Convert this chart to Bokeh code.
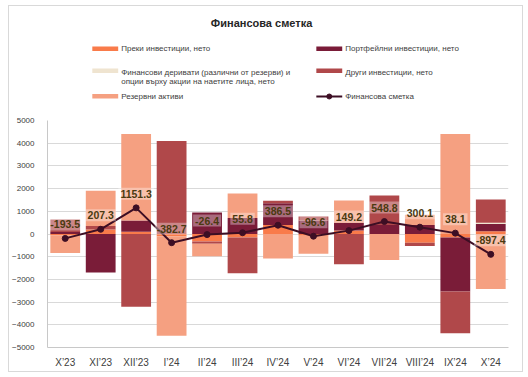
import numpy as np
from bokeh.plotting import figure
from bokeh.models import ColumnDataSource, FactorRange, Range1d, FixedTicker, Label
from bokeh.layouts import column
from bokeh.core.properties import value
from bokeh.embed import file_html
from bokeh.resources import INLINE

# ---------------- data (млн. евро) ----------------
categories = ["X’23", "XI’23", "XII’23", "I’24", "II’24", "III’24", "IV’24",
              "V’24", "VI’24", "VII’24", "VIII’24", "IX’24", "X’24"]
direct = [-60, 200, 100, -100, -330, -150, 400, -80, 150, 0, -380, -150, 120]
portfolio = [90, -1700, 500, 0, 950, 700, 950, 600, 350, 400, 400, -2380, 320]
derivatives = [0, 0, 0, 0, 0, 0, 0, 0, 0, 0, 0, 0, 60]
other = [550, 150, -3200, 4100, -100, -1580, 120, 170, -1330, 1300, -150, -1840, 1020]
reserve = [-775, 1550, 3800, -4380, -550, 1085, -1080, -790, 980, -1150, 450, 4410, -2420]
financial_account = [-193.5, 207.3, 1151.3, -382.7, -26.4, 55.8, 386.5, -96.6,
                     149.2, 548.8, 300.1, 38.1, -897.4]
y_ticks = [-5000, -4000, -3000, -2000, -1000, 0, 1000, 2000, 3000, 4000, 5000]

series_names = ["Преки инвестиции, нето",
                "Портфейлни инвестиции, нето",
                "Финансови деривати (различни от резерви) и опции върху акции на наетите лица, нето",
                "Други инвестиции, нето",
                "Резервни активи"]
line_name = "Финансова сметка"

colors = ["#F97B4A", "#7A1C38", "#EFE4D0", "#B0484A", "#F5A081"]
line_color = "#3D0E24"
FONT = "Liberation Sans"

# ---------------- header (title + legend) ----------------
W_IN = 513
# the column aligns this frame with the chart frame below
hdr = figure(width=W_IN, height=109, x_range=Range1d(47, 510), y_range=Range1d(115, 6),
             output_backend="svg", toolbar_location=None, min_border=0,
             x_axis_location=None, y_axis_location=None)
hdr.grid.visible = False
hdr.outline_line_color = None

hdr.text(x=[262], y=[22], text=["Финансова сметка"], text_font=value(FONT),
         text_font_size="11px", text_font_style="bold",
         text_color="#262626", text_align="center", text_baseline="middle")

leg_text_kw = dict(text_font=value(FONT), text_font_size="8px", text_color="#404040",
                   text_baseline="middle", text_align="left")
# left column
hdr.quad(left=[92], right=[118], top=[46], bottom=[50.5], color=colors[0], line_color=None)
hdr.text(x=[121], y=[48], text=[series_names[0]], **leg_text_kw)
hdr.quad(left=[92], right=[118], top=[68], bottom=[72.5], color=colors[2], line_color=None)
hdr.text(x=[121, 121], y=[72, 81],
         text=["Финансови деривати (различни от резерви) и",
               "опции върху акции на наетите лица, нето"], **leg_text_kw)
hdr.quad(left=[92], right=[118], top=[93.5], bottom=[98], color=colors[4], line_color=None)
hdr.text(x=[121], y=[96], text=[series_names[4]], **leg_text_kw)
# right column
hdr.quad(left=[317], right=[343], top=[46], bottom=[50.5], color=colors[1], line_color=None)
hdr.text(x=[346], y=[48], text=[series_names[1]], **leg_text_kw)
hdr.quad(left=[317], right=[343], top=[68], bottom=[72.5], color=colors[3], line_color=None)
hdr.text(x=[346], y=[72], text=[series_names[3]], **leg_text_kw)
hdr.line(x=[317, 343], y=[96, 96], line_color=line_color, line_width=2)
hdr.scatter(x=[330], y=[96], size=5, color=line_color)
hdr.text(x=[346], y=[96], text=[line_name], **leg_text_kw)
# y-axis unit (annotation: may sit left of the frame)
for yy, tx in ((97, "млн."), (107, "евро")):
    hdr.add_layout(Label(x=20, y=yy, text=tx, text_font=FONT, text_font_size="8px",
                         text_color="#404040", text_baseline="middle", text_align="left"))

# ---------------- main chart ----------------
p = figure(width=W_IN, height=256, x_range=FactorRange(*categories),
           y_range=Range1d(-5000, 5000), output_backend="svg", toolbar_location=None,
           min_border_left=36, min_border_right=14, min_border_top=5, min_border_bottom=24)
p.outline_line_color = None
p.xgrid.grid_line_color = None
p.ygrid.grid_line_color = "#D9D9D9"
p.ygrid.grid_line_width = 1
p.yaxis.ticker = FixedTicker(ticks=y_ticks)
for ax in (p.xaxis[0], p.yaxis[0]):
    ax.axis_line_color = "#C8C8C8"
    ax.major_tick_line_color = None
    ax.minor_tick_line_color = None
    ax.major_label_text_font = FONT
    ax.major_label_text_color = "#404040"
p.yaxis.major_label_text_font_size = "8px"
p.yaxis.major_label_standoff = 7
p.xaxis.major_label_text_font_size = "10px"
p.xaxis.major_label_standoff = 3

series = [direct, portfolio, derivatives, other, reserve]
pos_base = np.zeros(len(categories))
neg_base = np.zeros(len(categories))
for vals, col in zip(series, colors):
    v = np.array(vals, dtype=float)
    bottom = np.where(v >= 0, pos_base, neg_base)
    top = bottom + v
    pos_base = np.where(v >= 0, top, pos_base)
    neg_base = np.where(v < 0, top, neg_base)
    src = ColumnDataSource(dict(x=categories, top=top, bottom=bottom))
    p.vbar(x="x", top="top", bottom="bottom", width=0.84, source=src,
           fill_color=col, line_color=None)

lsrc = ColumnDataSource(dict(x=categories, y=financial_account,
                             lbl=[f"{v:.1f}" for v in financial_account]))
p.line(x="x", y="y", source=lsrc, line_color=line_color, line_width=2)
p.scatter(x="x", y="y", source=lsrc, size=6, color=line_color)
p.text(x="x", y="y", text="lbl", source=lsrc, y_offset=-14,
       text_font=value(FONT), text_font_size="10.5px", text_font_style="bold",
       text_color="#4A3A10", text_align="center", text_baseline="middle",
       background_fill_color="white", background_fill_alpha=0.35, padding=2)

layout = column(hdr, p, styles={"margin-left": "8px", "margin-top": "5px",
                                "border": "1px solid #D9D9D9"})

open("out.html", "w").write(file_html(layout, INLINE))
